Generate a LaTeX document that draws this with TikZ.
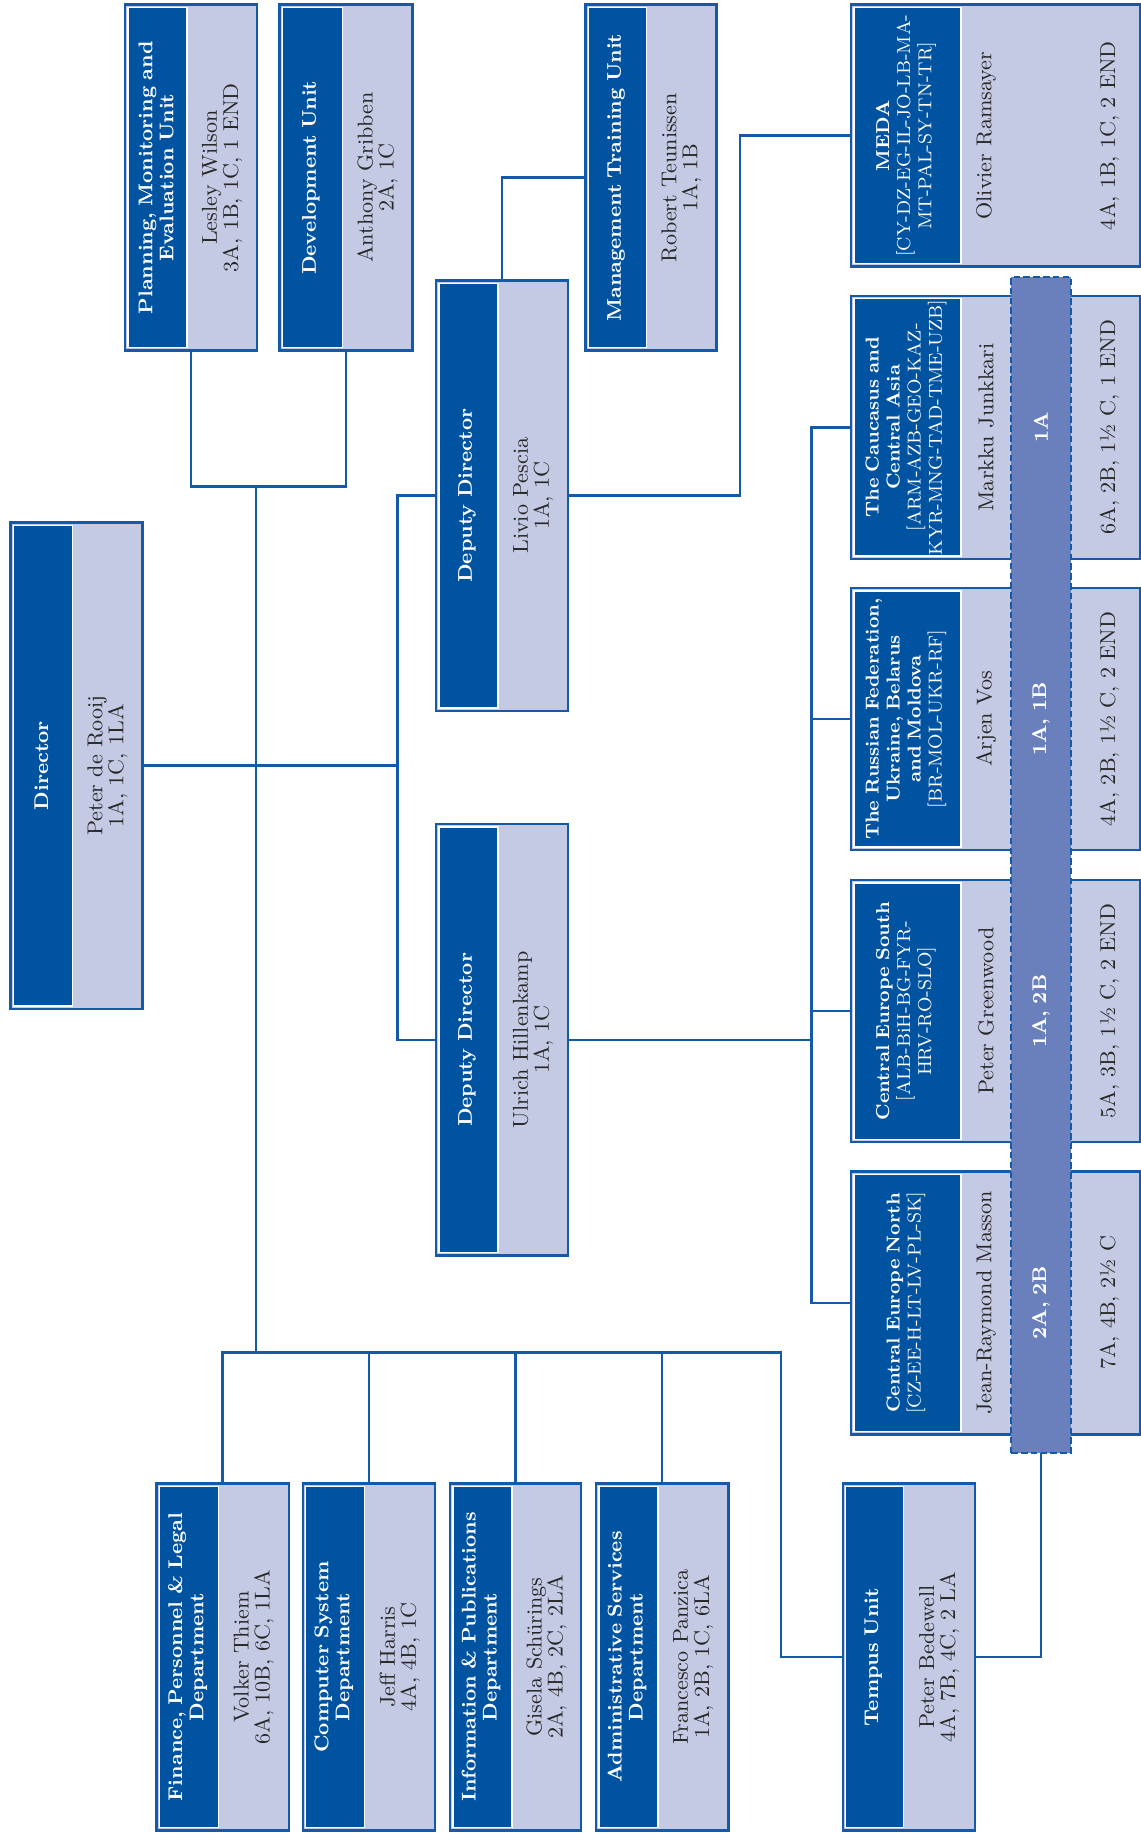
\documentclass[tikz,border=0pt]{standalone}
\usepackage{fontspec}
\setmainfont{Latin Modern Roman}[BoldFeatures={WordSpace=0.8}]
\usetikzlibrary{fit}
\definecolor{darkblue}{RGB}{0,83,160}
\definecolor{lightblue}{RGB}{197,202,228}
\definecolor{linecol}{RGB}{20,90,168}
\definecolor{bandfill}{RGB}{106,128,188}
\tikzset{
 unitbox/.style={draw=linecol, fill=lightblue, line width=1.05pt, inner sep=0pt, outer sep=0pt, rectangle},
 titletext/.style={rotate=90, text=white, align=center, font=\fontsize{8.5}{9}\selectfont\bfseries, inner sep=0pt},
 regiontitle/.style={rotate=90, text=white, align=center, font=\fontsize{8}{9}\selectfont\bfseries, inner sep=0pt},
 persontext/.style={rotate=90, text=black!85, align=center, font=\fontsize{9.2}{9}\selectfont, inner sep=0pt},
 conn/.style={draw=linecol, line width=1.05pt},
 bandbox/.style={draw=linecol, fill=bandfill, dash pattern=on 2.8pt off 1.4pt, line width=1pt, inner sep=0pt, outer sep=0pt, rectangle},
 bandtext/.style={rotate=90, text=white, font=\fontsize{8.5}{9}\selectfont\bfseries, inner sep=0pt},
}
\newcommand{\orgunit}[8]{%
 \node[unitbox, fit={(#2,#3) (#4,#5)}] (#1) {};
 \fill[darkblue, draw=white, line width=0.6pt] ({#2+2.5},{#3+2.5}) rectangle ({#2+#6},{#5-2.5});
 \node[titletext] (#1-t) at ({#2+#6/2},{(#3+#5)/2}) {#7};
 \node[persontext] (#1-p) at ({(#2+#6+#4)/2},{(#3+#5)/2}) {#8};
}
\newcommand{\regionunit}[6]{%
 \node[unitbox, fit={(728,#2) (975,#3)}] (#1) {};
 \fill[darkblue, draw=white, line width=0.6pt] (730.5,{#2+2.5}) rectangle (822,{#3-2.5});
 \node[regiontitle] (#1-t) at (775,{(#2+#3)/2}) {#4};
 \node[persontext] (#1-p) at (843.5,{(#2+#3)/2}) {#5};
 \node[persontext] (#1-g) at (949,{(#2+#3)/2}) {#6};
}
\begin{document}
\begin{tikzpicture}[x=0.5pt, y=-0.5pt]
\useasboundingbox (0,0) rectangle (976,1568);

% top units
\orgunit{plan}{107}{4}{220}{300}{53}{Planning, Monitoring and\\Evaluation Unit}{Lesley Wilson\\3A, 1B, 1C, 1 END}
\orgunit{dev}{239}{4}{353}{300}{54}{Development Unit}{Anthony Gribben\\2A, 1C}
\orgunit{mgmt}{501}{4}{613}{300}{52}{Management Training Unit}{Robert Teunissen\\1A, 1B}

% director and deputies
\orgunit{dir}{9}{447}{122}{863}{53}{Director}{Peter de Rooij\\1A, 1C, 1LA}
\orgunit{dep1}{373}{240}{486}{608}{53}{Deputy Director}{Livio Pescia\\1A, 1C}
\orgunit{dep2}{373}{705}{486}{1074}{53}{Deputy Director}{Ulrich Hillenkamp\\1A, 1C}

% bottom departments
\orgunit{fin}{134}{1269}{247}{1566}{53}{Finance, Personnel \& Legal\\Department}{Volker Thiem\\6A, 10B, 6C, 1LA}
\orgunit{comp}{259}{1269}{372}{1566}{53}{Computer System\\Department}{Jeff Harris\\4A, 4B, 1C}
\orgunit{info}{385}{1269}{497}{1566}{53}{Information \& Publications\\Department}{Gisela Schürings\\2A, 4B, 2C, 2LA}
\orgunit{adm}{510}{1269}{623}{1566}{53}{Administrative Services\\Department}{Francesco Panzica\\1A, 2B, 1C, 6LA}
\orgunit{temp}{721}{1269}{834}{1566}{52}{Tempus Unit}{Peter Bedewell\\4A, 7B, 4C, 2 LA}

% regions
\regionunit{meda}{4}{228}{MEDA\\\textmd{[CY-DZ-EG-IL-JO-LB-MA-}\\\textmd{MT-PAL-SY-TN-TR]}}{Olivier Ramsayer}{4A, 1B, 1C, 2 END}
\regionunit{cauc}{253}{478}{The Caucasus and\\Central Asia\\\textmd{[ARM-AZB-GEO-KAZ-}\\\textmd{KYR-MNG-TAD-TME-UZB]}}{Markku Junkkari}{6A, 2B, 1½ C, 1 END}
\regionunit{rus}{503}{727}{The Russian Federation,\\Ukraine, Belarus\\and Moldova\\\textmd{[BR-MOL-UKR-RF]}}{Arjen Vos}{4A, 2B, 1½ C, 2 END}
\regionunit{ces}{753}{977}{Central Europe South\\\textmd{[ALB-BiH-BG-FYR-}\\\textmd{HRV-RO-SLO]}}{Peter Greenwood}{5A, 3B, 1½ C, 2 END}
\regionunit{cen}{1002}{1227}{Central Europe North\\\textmd{[CZ-EE-H-LT-LV-PL-SK]}}{Jean-Raymond Masson}{7A, 4B, 2½ C}

% band
\node[bandbox, fit={(865,237) (916,1243)}] (band) {};
\node[bandtext] (b1) at (890.5,365.5) {1A};
\node[bandtext] (b2) at (890.5,615) {1A, 1B};
\node[bandtext] (b3) at (890.5,865) {1A, 2B};
\node[bandtext] (b4) at (890.5,1114.5) {2A, 2B};

% junction coordinates
\coordinate (j1) at (219,416);
\coordinate (j2) at (219,1157);
\coordinate (bj) at (668,1157);
\coordinate (dtr) at (340,655);
\coordinate (mj) at (633,300);
\coordinate (rj) at (694,700);

% connectors
\draw[conn] (plan.south) |- (dev.south |- j1) -- (dev.south);
\draw[conn] (j1) -- (j2);
\draw[conn] (dir.east) -- (dtr);
\draw[conn] (dep1.west) -| (dtr) |- (dep2.west);
\draw[conn] (dep1.north) |- (mgmt.west);
\draw[conn] (dep1.east) -- (dep1.east -| mj) |- (meda.west);
\draw[conn] (dep2.east) -- (dep2.east -| rj);
\draw[conn] (cauc.west) -| (rj |- cen.west) -- (cen.west);
\draw[conn] (rus.west) -- (rus.west -| rj);
\draw[conn] (ces.west) -- (ces.west -| rj);
\draw[conn] (fin.north) |- (bj) |- (temp.west);
\draw[conn] (comp.north) -- (comp.north |- j2);
\draw[conn] (info.north) -- (info.north |- j2);
\draw[conn] (adm.north) -- (adm.north |- j2);
\draw[conn] (band.south) |- (temp.east);
\end{tikzpicture}
\end{document}
